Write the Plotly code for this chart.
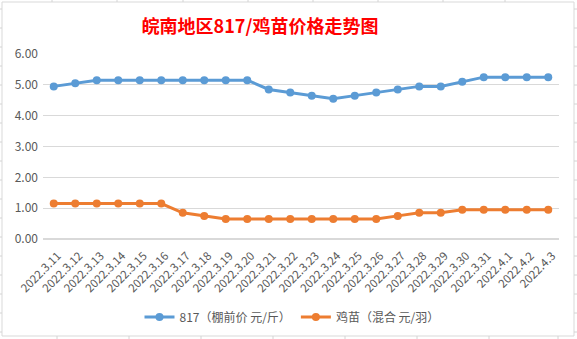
import plotly.graph_objects as go

dates = ["2022.3.11", "2022.3.12", "2022.3.13", "2022.3.14", "2022.3.15", "2022.3.16",
         "2022.3.17", "2022.3.18", "2022.3.19", "2022.3.20", "2022.3.21", "2022.3.22",
         "2022.3.23", "2022.3.24", "2022.3.25", "2022.3.26", "2022.3.27", "2022.3.28",
         "2022.3.29", "2022.3.30", "2022.3.31", "2022.4.1", "2022.4.2", "2022.4.3"]
price_817 = [4.95, 5.05, 5.15, 5.15, 5.15, 5.15, 5.15, 5.15, 5.15, 5.15, 4.85, 4.75,
             4.65, 4.55, 4.65, 4.75, 4.85, 4.95, 4.95, 5.10, 5.25, 5.25, 5.25, 5.25]
price_chick = [1.15, 1.15, 1.15, 1.15, 1.15, 1.15, 0.85, 0.75, 0.65, 0.65, 0.65, 0.65,
               0.65, 0.65, 0.65, 0.65, 0.75, 0.85, 0.85, 0.95, 0.95, 0.95, 0.95, 0.95]
name_817 = "817（棚前价 元/斤）"
name_chick = "鸡苗（混合 元/羽）"
title = "皖南地区817/鸡苗价格走势图"
yticks = [0, 1, 2, 3, 4, 5, 6]

W, H = 577, 339
L, R, T, B = 43, 18, 54, 100
pw, ph = W - L - R, H - T - B

fig = go.Figure()
fig.add_trace(go.Scatter(x=dates, y=price_817, name=name_817, mode="lines+markers",
                         line=dict(color="#5B9BD5", width=3),
                         marker=dict(color="#5B9BD5", size=8)))
fig.add_trace(go.Scatter(x=dates, y=price_chick, name=name_chick, mode="lines+markers",
                         line=dict(color="#ED7D31", width=3),
                         marker=dict(color="#ED7D31", size=8)))

def px(x):
    return (x - L) / pw

def py(y):
    return (H - B - y) / ph

shapes = [dict(type="rect", xref="paper", yref="paper", x0=px(2), x1=px(574),
               y0=py(336), y1=py(2), line=dict(color="#D9D9D9", width=1), layer="below")]
# spreadsheet cell grid ticks outside the chart border
for xx in [52, 117, 183, 248, 313, 378, 443, 505]:
    shapes.append(dict(type="line", xref="paper", yref="paper", x0=px(xx), x1=px(xx),
                       y0=py(0), y1=py(2), line=dict(color="#D4D4D4", width=1)))
for xx in [57, 129, 201, 273, 345, 417, 489, 558]:
    shapes.append(dict(type="line", xref="paper", yref="paper", x0=px(xx), x1=px(xx),
                       y0=py(336), y1=py(339), line=dict(color="#D4D4D4", width=1)))
for yy in range(9, 336, 19):
    shapes.append(dict(type="line", xref="paper", yref="paper", x0=px(0), x1=px(2),
                       y0=py(yy), y1=py(yy), line=dict(color="#D4D4D4", width=1)))
    shapes.append(dict(type="line", xref="paper", yref="paper", x0=px(574), x1=px(577),
                       y0=py(yy), y1=py(yy), line=dict(color="#D4D4D4", width=1)))

fig.update_layout(
    width=W, height=H,
    margin=dict(l=L, r=R, t=T, b=B, autoexpand=False),
    paper_bgcolor="white", plot_bgcolor="white",
    title=dict(text=title, x=260 / W, xanchor="center", xref="container",
               y=1 - 27 / H, yanchor="middle", yref="container",
               font=dict(family="Noto Sans CJK SC", size=18, color="#FF0000", weight="bold")),
    xaxis=dict(type="category", tickangle=-45, showgrid=False, showline=False,
               zeroline=False, ticks="", range=[-0.5, len(dates) - 0.5],
               ticklabelstandoff=7, ticklabelshift=4, automargin=False,
               tickfont=dict(family="Noto Sans CJK SC, Liberation Sans", size=11.5, color="#595959")),
    yaxis=dict(range=[0, 6], tickvals=yticks, tickformat=".2f", showgrid=True,
               gridcolor="#D9D9D9", gridwidth=1, zeroline=True, zerolinecolor="#D9D9D9",
               showline=False, ticks="", ticklabelstandoff=4, automargin=False,
               tickfont=dict(family="Noto Sans CJK SC, Liberation Sans", size=12, color="#595959")),
    legend=dict(orientation="h", x=292 / W, xanchor="center", xref="container",
                y=1 - 317 / H, yanchor="middle", yref="container",
                font=dict(family="Noto Sans CJK SC", size=12, color="#595959"),
                itemwidth=30, bgcolor="rgba(0,0,0,0)"),
    shapes=shapes,
    showlegend=True,
)

fig.write_html("out.html")
